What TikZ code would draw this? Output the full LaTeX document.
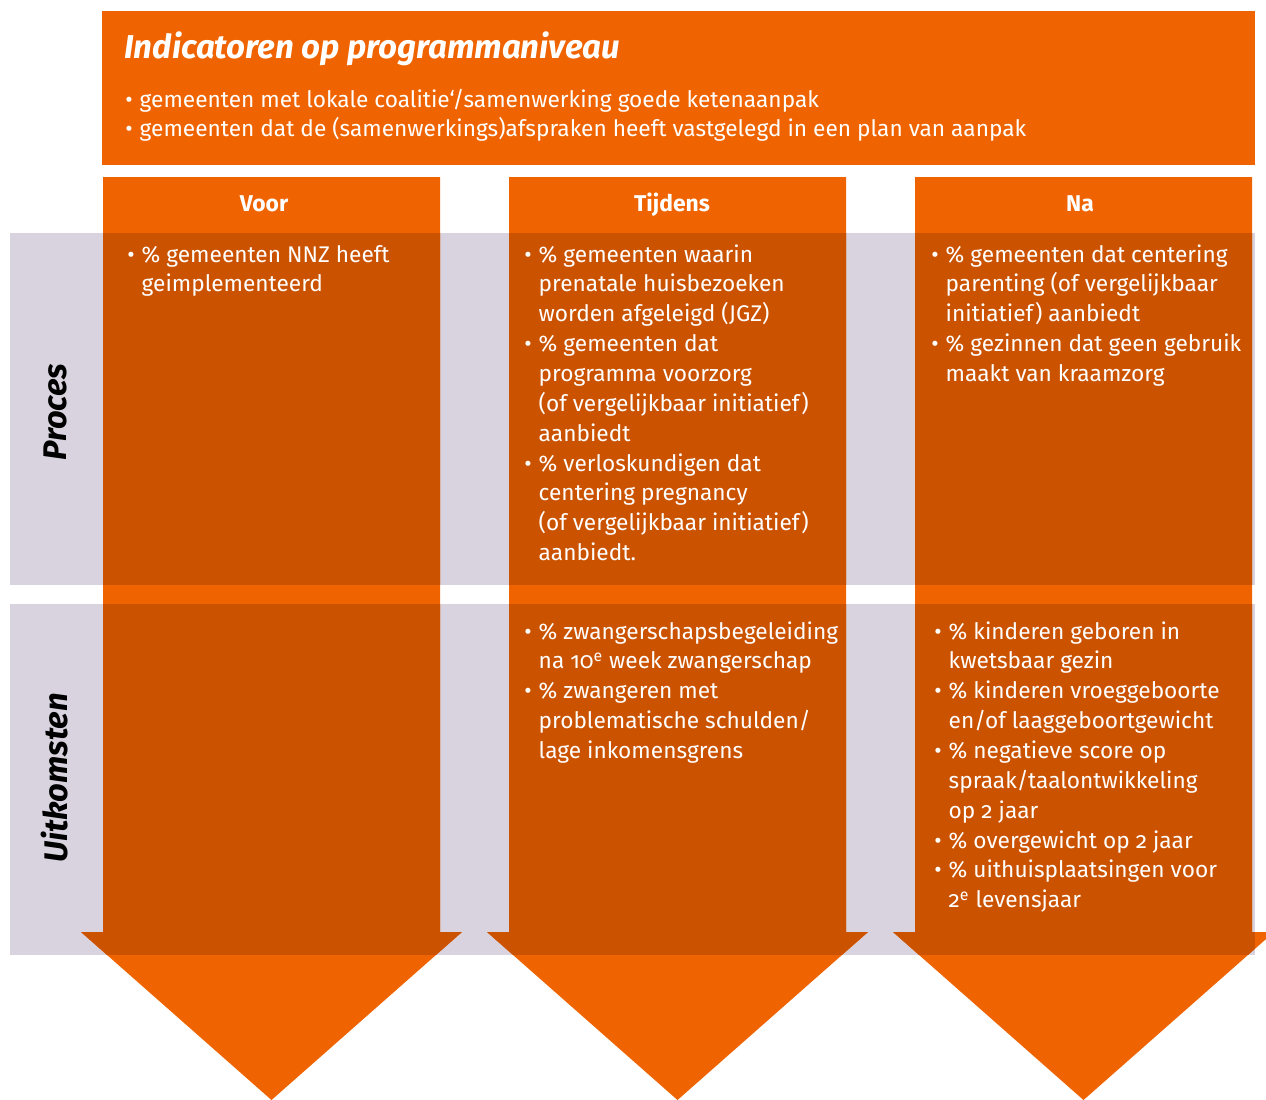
\documentclass[tikz,border=0pt]{standalone}
\usepackage{fontspec}
\setmainfont{Fira Sans}[Numbers=OldStyle]
\usepackage{tikz}

\definecolor{rvooranje}{HTML}{EF6400}
\definecolor{rvodonker}{HTML}{CB5300}
\definecolor{rvogrijs}{HTML}{D9D3DF}

\newcommand{\lijst}[1]{\begin{tabular}[t]{@{}l@{\hspace{4pt}}l@{}}#1\end{tabular}}
\newcommand{\pijlpad}[1]{(#1,177) -- (#1+337,177) -- (#1+337,932) -- (#1+359,932) -- (#1+168.5,1100) -- (#1-22,932) -- (#1,932) -- cycle}

\tikzset{
  txt/.style={anchor=base west, text=white, inner sep=0pt, font=\fontsize{12.9}{17}\selectfont},
  kop/.style={anchor=base, text=white, inner sep=0pt, font=\fontsize{13}{15}\selectfont\bfseries},
  rij/.style={rotate=90, inner sep=0pt, font=\fontsize{18.6}{22}\selectfont\bfseries\itshape},
}

\begin{document}
\begin{tikzpicture}[x=0.02cm,y=-0.02cm]
\useasboundingbox (0,0) rectangle (1266,1099);
\clip (0,0) rectangle (1266,1099);

%banner
\fill[rvooranje] (102,11) rectangle (1255,165);
\node[anchor=base west, text=white, inner sep=0pt, font=\fontsize{18.8}{22}\selectfont\bfseries\itshape] (titel) at (124,58) {Indicatoren op programmaniveau};
\node[txt] (doelen) at (125,107) {\lijst{
  \textbullet & gemeenten met lokale coalitie`/samenwerking goede ketenaanpak\\
  \textbullet & gemeenten dat de (samenwerkings)afspraken heeft vastgelegd in een plan van aanpak}};

%rijen
\fill[rvogrijs] (10,233) rectangle (1255,585);
\fill[rvogrijs] (10,604) rectangle (1255,955);
\node[rij] (proces) at (55,412) {Proces};
\node[rij] (uitkomsten) at (55,778) {Uitkomsten};

%pijlen
\fill[rvooranje] \pijlpad{103};
\fill[rvooranje] \pijlpad{509};
\fill[rvooranje] \pijlpad{915};
\begin{scope}
\clip \pijlpad{103} \pijlpad{509} \pijlpad{915};
\fill[rvodonker] (10,233) rectangle (1255,585);
\fill[rvodonker] (10,604) rectangle (1255,955);
\end{scope}

%koppen
\node[kop] (voor) at (264,211) {Voor};
\node[kop] (tijdens) at (672,211) {Tijdens};
\node[kop] (na) at (1080,211) {Na};

%proces
\node[txt] (procvoor) at (127,262) {\lijst{
  \textbullet & \% gemeenten NNZ heeft\\
  & geimplementeerd}};
\node[txt] (proctijdens) at (524,262) {\lijst{
  \textbullet & \% gemeenten waarin\\
  & prenatale huisbezoeken\\
  & worden afgeleigd (JGZ)\\
  \textbullet & \% gemeenten dat\\
  & programma voorzorg\\
  & (of vergelijkbaar initiatief)\\
  & aanbiedt\\
  \textbullet & \% verloskundigen dat\\
  & centering pregnancy\\
  & (of vergelijkbaar initiatief)\\
  & aanbiedt.}};
\node[txt] (procna) at (931,262) {\lijst{
  \textbullet & \% gemeenten dat centering\\
  & parenting (of vergelijkbaar\\
  & initiatief) aanbiedt\\
  \textbullet & \% gezinnen dat geen gebruik\\
  & maakt van kraamzorg}};

%uitkomsten
\node[txt] (uittijdens) at (524,639) {\lijst{
  \textbullet & \% zwangerschapsbegeleiding\\
  & na 10\textsuperscript{e} week zwangerschap\\
  \textbullet & \% zwangeren met\\
  & problematische schulden/\\
  & lage inkomensgrens}};
\node[txt] (uitna) at (934,639) {\lijst{
  \textbullet & \% kinderen geboren in\\
  & kwetsbaar gezin\\
  \textbullet & \% kinderen vroeggeboorte\\
  & en/of laaggeboortgewicht\\
  \textbullet & \% negatieve score op\\
  & spraak/taalontwikkeling\\
  & op 2 jaar\\
  \textbullet & \% overgewicht op 2 jaar\\
  \textbullet & \% uithuisplaatsingen voor\\
  & 2\textsuperscript{e} levensjaar}};

\end{tikzpicture}
\end{document}
